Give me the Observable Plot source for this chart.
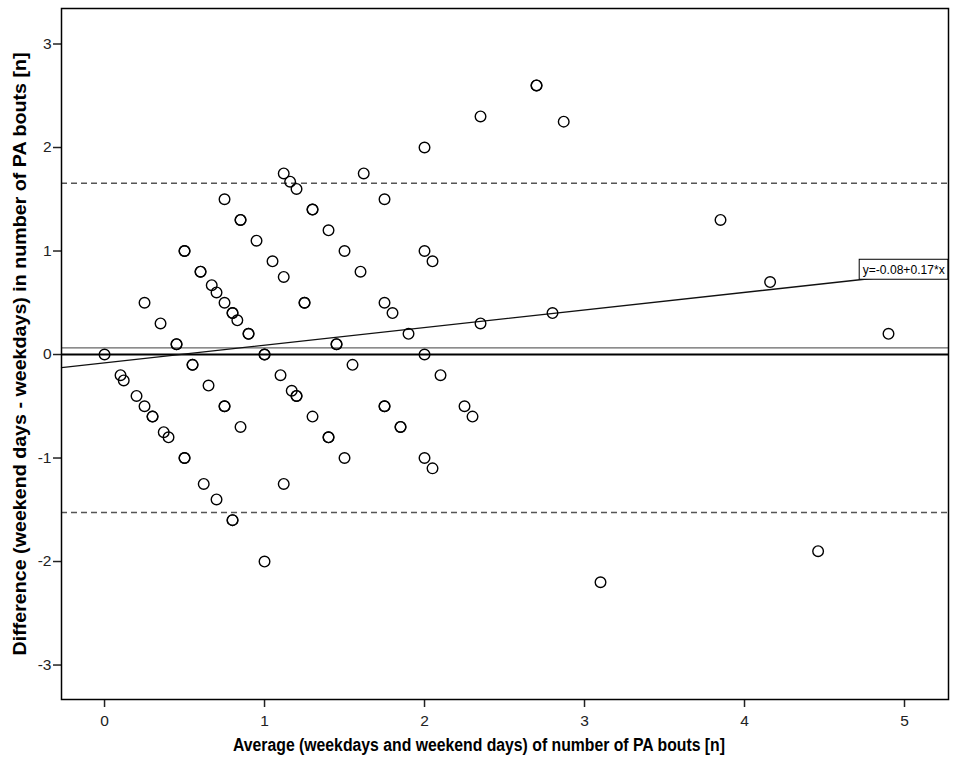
<!DOCTYPE html>
<html>
<head>
<meta charset="utf-8">
<script src="https://cdn.jsdelivr.net/npm/d3@7"></script>
<script src="https://cdn.jsdelivr.net/npm/@observablehq/plot@0.6"></script>
<style>
  html, body { margin: 0; padding: 0; background: #fff; }
  #chart svg { display: block; }
</style>
</head>
<body>
<div id="chart"></div>
<script>
// Bland-Altman data: average (x) vs difference (y); repeated pairs are overlapping observations
const avgValues = [
  0, 0.1, 0.12, 0.2, 0.25, 0.3, 0.3, 0.37, 0.4, 0.5, 0.5,
  0.25, 0.35, 0.45, 0.45, 0.55, 0.55, 0.65, 0.75, 0.75, 0.85,
  0.62, 0.7, 0.8, 0.8, 1.0,
  0.5, 0.5, 0.6, 0.6, 0.67, 0.7, 0.75, 0.8, 0.8, 0.83, 0.9, 0.9, 1.0, 1.0,
  0.75, 0.85, 0.85, 0.95, 1.05, 1.12, 1.25, 1.25,
  1.1, 1.17, 1.2, 1.2, 1.3, 1.4, 1.4, 1.5, 1.12,
  1.12, 1.16, 1.2, 1.3, 1.3, 1.4, 1.5, 1.6,
  1.45, 1.45, 1.55, 1.75, 1.75, 1.85, 1.85,
  1.62, 1.75, 1.75, 1.8, 1.9, 2.0, 2.1, 2.25, 2.3, 2.0, 2.05,
  2.0, 2.0, 2.05, 2.35, 2.35, 2.7, 2.7, 2.87, 2.8,
  3.1, 3.85, 4.16, 4.9, 4.46
];
const diffValues = [
  0, -0.2, -0.25, -0.4, -0.5, -0.6, -0.6, -0.75, -0.8, -1.0, -1.0,
  0.5, 0.3, 0.1, 0.1, -0.1, -0.1, -0.3, -0.5, -0.5, -0.7,
  -1.25, -1.4, -1.6, -1.6, -2.0,
  1.0, 1.0, 0.8, 0.8, 0.67, 0.6, 0.5, 0.4, 0.4, 0.33, 0.2, 0.2, 0.0, 0.0,
  1.5, 1.3, 1.3, 1.1, 0.9, 0.75, 0.5, 0.5,
  -0.2, -0.35, -0.4, -0.4, -0.6, -0.8, -0.8, -1.0, -1.25,
  1.75, 1.67, 1.6, 1.4, 1.4, 1.2, 1.0, 0.8,
  0.1, 0.1, -0.1, -0.5, -0.5, -0.7, -0.7,
  1.75, 1.5, 0.5, 0.4, 0.2, 0.0, -0.2, -0.5, -0.6, -1.0, -1.1,
  2.0, 1.0, 0.9, 2.3, 0.3, 2.6, 2.6, 2.25, 0.4,
  -2.2, 1.3, 0.7, 0.2, -1.9
];

const meanDiff = 0.064;
const upperLoA = 1.655;
const lowerLoA = -1.527;
const fitIntercept = -0.08;
const fitSlope = 0.17;
const fitLabel = "y=-0.08+0.17*x";
const fitLabelAt = 4.72;

const xTicks = [0, 1, 2, 3, 4, 5];
const yTicks = [-3, -2, -1, 0, 1, 2, 3];
const xDomain = [-0.269, 5.275];
const yDomain = [-3.333, 3.343];

const xTitle = "Average (weekdays and weekend days) of number of PA bouts [n]";
const yTitle = "Difference (weekend days - weekdays) in number of PA bouts [n]";

const points = avgValues.map((x, i) => ({x, y: diffValues[i]}));
const fit = x => fitIntercept + fitSlope * x;
const fitLine = xDomain.map(x => ({x, y: fit(x)}));
const labelY1 = fit(fitLabelAt);
const labelY2 = labelY1 + 0.193;

const chart = Plot.plot({
  width: 957,
  height: 769,
  marginLeft: 61,
  marginRight: 9,
  marginTop: 8,
  marginBottom: 70,
  style: {fontFamily: "'Liberation Sans', Arial, sans-serif", background: "#fff"},
  x: {domain: xDomain, ticks: xTicks, tickFormat: d => String(d), label: null},
  y: {domain: yDomain, ticks: yTicks, tickFormat: d => String(d), label: null},
  marks: [
    Plot.axisX({ticks: xTicks, tickFormat: d => String(d), tickSize: 8, tickPadding: 7, fontSize: 15.5, color: "#222", strokeWidth: 1.5, label: null}),
    Plot.axisY({ticks: yTicks, tickFormat: d => String(d), tickSize: 8, tickPadding: 2, fontSize: 15.5, color: "#222", strokeWidth: 1.5, label: null}),
    Plot.ruleY([upperLoA, lowerLoA], {stroke: "#555", strokeWidth: 1.5, strokeDasharray: "6,4"}),
    Plot.ruleY([meanDiff], {stroke: "#666", strokeWidth: 1.3}),
    Plot.ruleY([0], {stroke: "#000", strokeWidth: 2}),
    Plot.line(fitLine, {x: "x", y: "y", stroke: "#111", strokeWidth: 1.3}),
    Plot.dot(points, {x: "x", y: "y", r: 5.3, stroke: "#000", strokeWidth: 1.4, fill: "none"}),
    Plot.rect([{x1: fitLabelAt, x2: xDomain[1], y1: labelY1, y2: labelY2}],
      {x1: "x1", x2: "x2", y1: "y1", y2: "y2", fill: "#fff", stroke: "#000", strokeWidth: 1, inset: 0}),
    Plot.text([{x: fitLabelAt, y: (labelY1 + labelY2) / 2}],
      {x: "x", y: "y", text: () => fitLabel, textAnchor: "start", dx: 3, fontSize: 12.5, fill: "#000"}),
    Plot.frame({stroke: "#000", strokeWidth: 1.5}),
    Plot.text([xTitle], {frameAnchor: "bottom", text: d => d, dx: -26, dy: 51, fontSize: 17.5, fontWeight: "bold", fill: "#000"}),
    Plot.text([yTitle], {frameAnchor: "left", text: d => d, textAnchor: "middle", rotate: -90, dx: -41, fontSize: 17.5, fontWeight: "bold", fill: "#000"})
  ]
});
// match the narrower title widths of the original
const fitWidths = new Map([[xTitle, 492], [yTitle, 603], [fitLabel, 82]]);
d3.select(chart).selectAll("text").each(function () {
  const w = fitWidths.get(this.textContent);
  if (w) d3.select(this).attr("textLength", w).attr("lengthAdjust", "spacingAndGlyphs");
});
document.getElementById("chart").append(chart);
</script>
</body>
</html>
